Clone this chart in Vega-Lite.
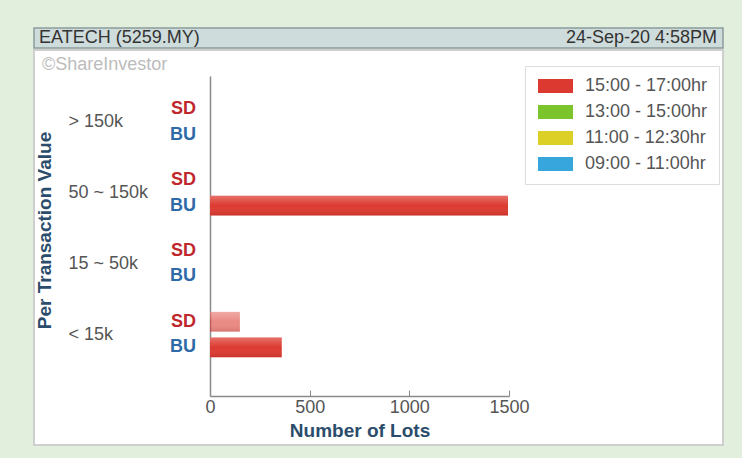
{
  "$schema": "https://vega.github.io/schema/vega-lite/v6.json",
  "background": "#e3efdd",
  "padding": {"left": 33, "top": 27, "right": 20, "bottom": 16},
  "config": {
    "font": "Liberation Sans",
    "concat": {"spacing": 0},
    "view": {"stroke": null}
  },
  "spacing": 0,
  "vconcat": [
    {
      "width": 689,
      "height": 20,
      "view": {"fill": "#cfdcdc", "stroke": "#8c9c9c", "strokeWidth": 1.5},
      "data": {"values": [
        {"side": "left", "label": "EATECH (5259.MY)"},
        {"side": "right", "label": "24-Sep-20 4:58PM"}
      ]},
      "encoding": {
        "x": {"field": "side", "type": "nominal", "scale": {"type": "point", "domain": ["left", "right"], "range": [5, 683], "padding": 0}, "axis": null},
        "text": {"field": "label"}
      },
      "layer": [
        {"transform": [{"filter": "datum.side === 'left'"}], "mark": {"type": "text", "align": "left", "baseline": "middle", "fontSize": 18, "color": "#333", "font": "Liberation Sans"}},
        {"transform": [{"filter": "datum.side === 'right'"}], "mark": {"type": "text", "align": "right", "baseline": "middle", "fontSize": 18, "color": "#333", "font": "Liberation Sans"}}
      ]
    },
    {
      "width": 689,
      "height": 395,
      "view": {"fill": "white", "stroke": "#cfcfcf", "strokeWidth": 2},
      "title": {"text": "©ShareInvestor", "anchor": "start", "frame": "group", "offset": -24, "dx": 8, "color": "#bcbcbc", "fontSize": 18, "fontWeight": "normal", "font": "Liberation Sans"},
      "data": {"values": [
        {"group": "> 150k", "type": "SD", "lots": 0, "slot": "15:00 - 17:00hr"},
        {"group": "> 150k", "type": "BU", "lots": 0, "slot": "15:00 - 17:00hr"},
        {"group": "50 ~ 150k", "type": "SD", "lots": 0, "slot": "15:00 - 17:00hr"},
        {"group": "50 ~ 150k", "type": "BU", "lots": 1495, "slot": "15:00 - 17:00hr"},
        {"group": "15 ~ 50k", "type": "SD", "lots": 0, "slot": "15:00 - 17:00hr"},
        {"group": "15 ~ 50k", "type": "BU", "lots": 0, "slot": "15:00 - 17:00hr"},
        {"group": "< 15k", "type": "SD", "lots": 150, "slot": "15:00 - 17:00hr"},
        {"group": "< 15k", "type": "BU", "lots": 360, "slot": "15:00 - 17:00hr"}
      ]},
      "encoding": {
        "y": {
          "field": "group", "type": "nominal",
          "scale": {"domain": ["> 150k", "50 ~ 150k", "15 ~ 50k", "< 15k"], "range": [26, 346], "paddingInner": 0, "paddingOuter": 0.259, "align": 0.29},
          "axis": {
            "title": "Per Transaction Value", "titleFontSize": 19, "titleFontWeight": "bold", "titleColor": "#2b4d6b", "titleX": -156, "titleY": 180,
            "labelAlign": "left", "labelPadding": 142, "ticks": false, "tickSize": 0,
            "labelColor": "#555", "labelFontSize": 18, "domainColor": "#8a8a8a", "domainWidth": 1.5, "offset": -176, "grid": false
          }
        },
        "yOffset": {"field": "type", "type": "nominal", "scale": {"domain": ["SD", "BU"], "paddingInner": 0.23, "paddingOuter": 0.5}},
        "x": {
          "field": "lots", "type": "quantitative",
          "scale": {"domain": [0, 1500], "range": [176, 475], "nice": false, "zero": true},
          "axis": {
            "values": [0, 500, 1000, 1500], "format": "d", "labelFlush": false, "offset": -49, "tickSize": -6, "tickColor": "#8a8a8a", "domainColor": "#8a8a8a", "domainWidth": 1.5,
            "labelColor": "#555", "labelFontSize": 18, "labelPadding": 8, "grid": false,
            "title": "Number of Lots", "titleColor": "#2b4d6b", "titleFontSize": 19, "titleFontWeight": "bold", "titlePadding": 5
          }
        }
      },
      "layer": [
        {
          "mark": {"type": "bar"},
          "encoding": {
            "color": {
              "field": "slot", "type": "nominal",
              "scale": {"domain": ["15:00 - 17:00hr", "13:00 - 15:00hr", "11:00 - 12:30hr", "09:00 - 11:00hr"], "range": ["#dc3a30", "#7cc42c", "#dccf26", "#36a6dc"]},
              "legend": {
                "title": null, "orient": "none", "legendX": 491, "legendY": 38,
                "symbolType": "M-1,-1H4V1H-1Z", "symbolSize": 196, "symbolStrokeWidth": 0,
                "labelFontSize": 18, "labelColor": "#555", "labelOffset": 31, "rowPadding": 8,
                "fillColor": "white", "strokeColor": "#dddddd", "padding": 11
              }
            },
            "opacity": {"condition": {"test": "datum.type === 'SD'", "value": 0.6}, "value": 1}
          }
        },
        {
          "mark": {
            "type": "bar",
            "fill": {"gradient": "linear", "x1": 0, "y1": 0, "x2": 0, "y2": 1, "stops": [
              {"offset": 0, "color": "rgba(255,255,255,0.28)"},
              {"offset": 0.5, "color": "rgba(255,255,255,0)"},
              {"offset": 1, "color": "rgba(110,0,0,0.15)"}
            ]}
          }
        },
        {
          "mark": {"type": "text", "align": "right", "baseline": "middle", "dx": -14, "fontSize": 18, "fontWeight": "bold", "font": "Liberation Sans"},
          "encoding": {
            "x": {"datum": 0},
            "text": {"field": "type"},
            "color": {"condition": {"test": "datum.type === 'SD'", "value": "#c0272d"}, "value": "#2f6aa8"}
          }
        }
      ]
    }
  ]
}
